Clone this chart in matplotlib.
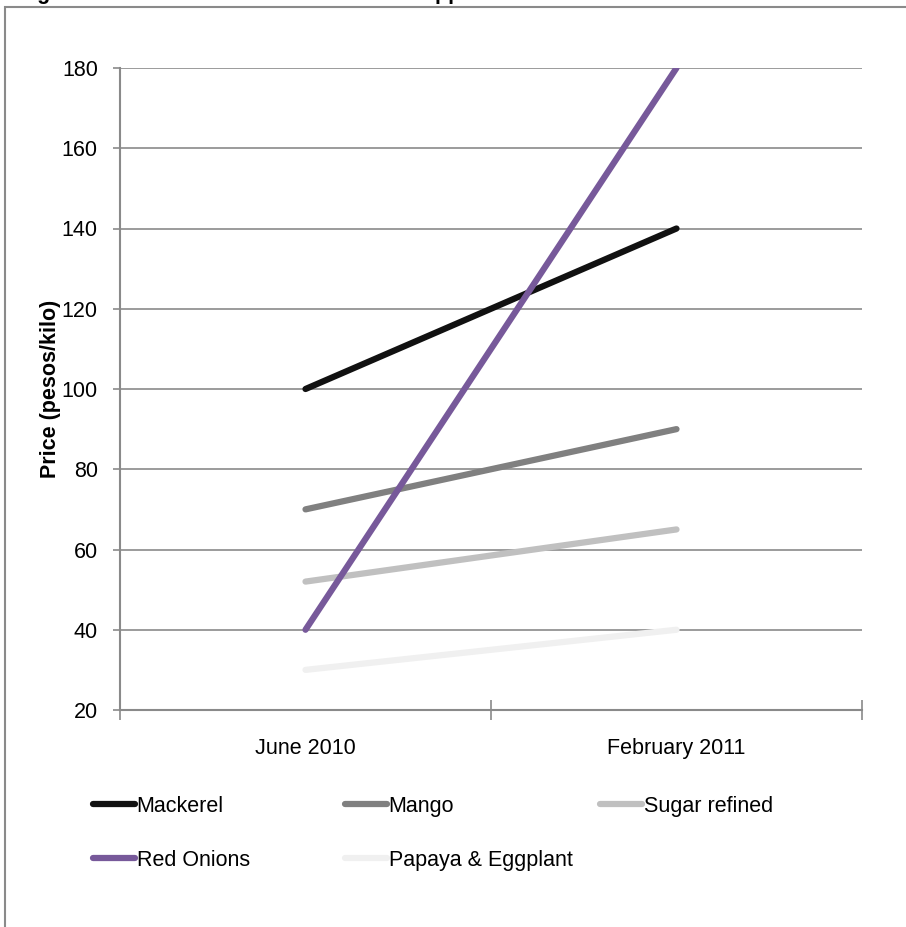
import matplotlib
matplotlib.use('Agg')
import matplotlib.pyplot as plt
from matplotlib.lines import Line2D
from matplotlib.patches import Rectangle

plt.rcParams['font.family'] = ['Liberation Sans', 'DejaVu Sans']

# 数据
periods = ['June 2010', 'February 2011']
items = ['Mackerel', 'Mango', 'Sugar refined', 'Red Onions', 'Papaya & Eggplant']
prices = {
    'Mackerel': [100, 140],
    'Mango': [70, 90],
    'Sugar refined': [52, 65],
    'Red Onions': [40, 180],
    'Papaya & Eggplant': [30, 40],
}
colors = {
    'Mackerel': '#111111',
    'Mango': '#808080',
    'Sugar refined': '#c0c0c0',
    'Red Onions': '#77599a',
    'Papaya & Eggplant': '#f0f0f0',
}
y_ticks = [20, 40, 60, 80, 100, 120, 140, 160, 180]

W, H = 906, 927
fig = plt.figure(figsize=(W / 100, H / 100), dpi=100)

# 外框（右侧和底部被裁掉）
fig.patches.append(Rectangle((5 / W, -0.2), 1.5, 1.2 - 7 / H, transform=fig.transFigure,
                             fill=False, edgecolor='#8a8a8a', linewidth=1.5))
# 标题在原图中只露出下沿
fig.text(18 / W, 1 + 1 / H, 'Figure 5. Prices of food items in the Philippines',
         fontsize=15.5, fontweight='bold', ha='left', va='baseline')

ax = fig.add_axes([120 / W, 1 - 710 / H, 742 / W, 642 / H])
x = list(range(len(periods)))
for name in items:
    ax.plot(x, prices[name], color=colors[name], linewidth=4.5,
            solid_capstyle='round', label=name, zorder=3)

ax.set_xlim(-0.5, len(periods) - 0.5)
ax.set_ylim(20, 180)
ax.set_yticks(y_ticks)
ax.yaxis.grid(True, color='#8a8a8a', linewidth=1.2)
ax.set_axisbelow(True)

for s in ['top', 'right']:
    ax.spines[s].set_visible(False)
for s in ['left', 'bottom']:
    ax.spines[s].set_color('#8a8a8a')
    ax.spines[s].set_linewidth(1.5)

ax.tick_params(axis='y', direction='out', length=5, width=1.2, color='#8a8a8a',
               labelsize=15.5, pad=11)
ax.set_xticks([i - 0.5 for i in range(len(periods) + 1)])
ax.set_xticklabels([])
ax.tick_params(axis='x', which='major', direction='inout', length=14, width=1.2, color='#8a8a8a')
ax.set_xticks(x, minor=True)
ax.set_xticklabels(periods, minor=True)
ax.tick_params(axis='x', which='minor', length=0, labelsize=15.5, pad=20)

ax.set_ylabel('Price (pesos/kilo)', fontsize=15.5, fontweight='bold')
ax.yaxis.set_label_coords(-0.079, 0.5)

# 图例：三列分开放
cols = [['Mackerel', 'Red Onions'], ['Mango', 'Papaya & Eggplant'], ['Sugar refined']]
col_x = [93, 345, 600]
for names, cx in zip(cols, col_x):
    handles = [Line2D([], [], color=colors[n], linewidth=4.5, solid_capstyle='round') for n in names]
    fig.legend(handles, names, loc='upper left', bbox_to_anchor=(cx / W, 1 - 796 / H),
               frameon=False, fontsize=15.5, handlelength=1.95, handletextpad=0.08,
               borderpad=0, borderaxespad=0, labelspacing=1.53)

fig.savefig('out.png', dpi=100)
